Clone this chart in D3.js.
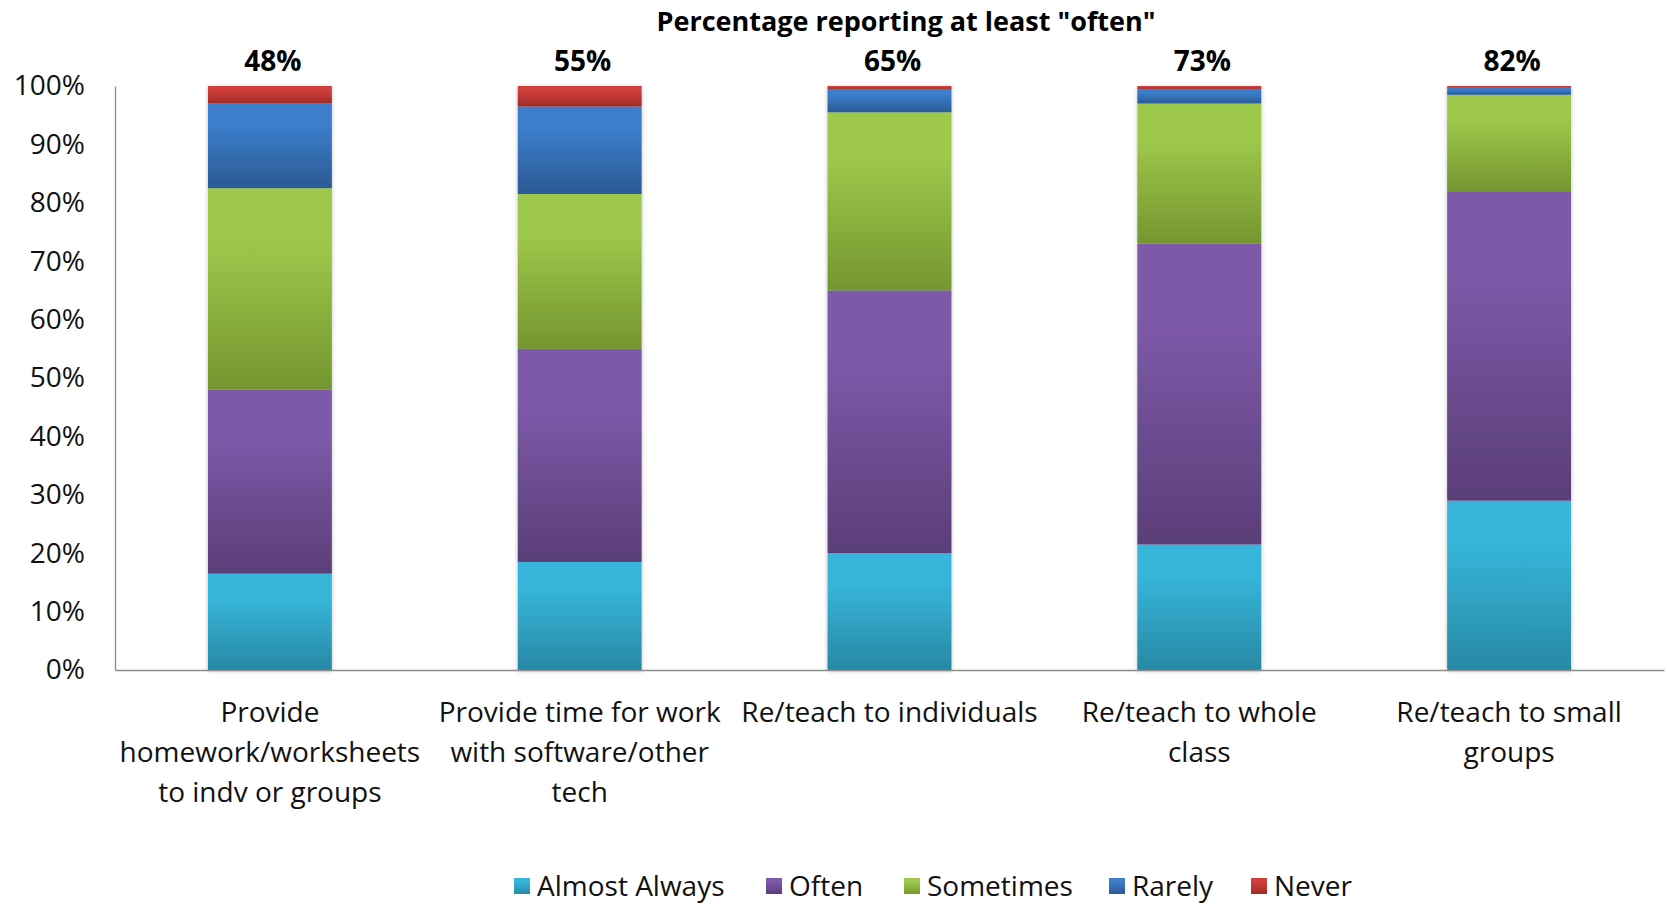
<!DOCTYPE html>
<html>
<head>
<meta charset="utf-8">
<script src="https://cdn.jsdelivr.net/npm/d3@7"></script>
<style>
  html, body { margin: 0; padding: 0; background: #fff; }
  svg { display: block; font-family: "Open Sans", sans-serif; }
</style>
</head>
<body>
<svg id="chart" width="1667" height="907"></svg>
<script>
// Categories (line breaks mark where the axis label wraps)
const categories = [
  "Provide\nhomework/worksheets\nto indv or groups",
  "Provide time for work\nwith software/other\ntech",
  "Re/teach to individuals",
  "Re/teach to whole\nclass",
  "Re/teach to small\ngroups"
];

const seriesNames = ["Almost Always", "Often", "Sometimes", "Rarely", "Never"];

// Percent of respondents per category
const almostAlways = [16.5, 18.5, 20.0, 21.5, 29.0];
const often        = [31.5, 36.5, 45.0, 51.5, 53.0];
const sometimes    = [34.5, 26.5, 30.5, 24.0, 16.5];
const rarely       = [14.5, 15.0,  4.0,  2.5,  1.2];
const never        = [ 3.0,  3.5,  0.5,  0.5,  0.3];

// Share reporting at least "often" (shown above each bar)
const atLeastOften = [48, 55, 65, 73, 82];

const yTicks = [0, 10, 20, 30, 40, 50, 60, 70, 80, 90, 100];

const titleText = 'Percentage reporting at least "often"';

// Gradient colours per series: [top, bottom]
const seriesColors = [
  ["#37b5da", "#2789a4"],
  ["#7d5aa9", "#5a3e78"],
  ["#9ec84a", "#74962f"],
  ["#3c7ecc", "#2b5a94"],
  ["#d03f3b", "#9e2b28"]
];

const seriesValues = [almostAlways, often, sometimes, rarely, never];

const rows = categories.map((c, i) => {
  const r = { category: c };
  seriesNames.forEach((s, k) => { r[s] = seriesValues[k][i]; });
  return r;
});

const svg = d3.select("#chart");
const plot = { left: 115, right: 1664, top: 86, bottom: 670 };

const x = d3.scaleBand()
  .domain(categories)
  .range([plot.left, plot.right])
  .paddingInner(0.6)
  .paddingOuter(0.3);

const y = d3.scaleLinear()
  .domain([0, 100])
  .range([plot.bottom, plot.top]);

// Gradients
const defs = svg.append("defs");
seriesNames.forEach((s, k) => {
  const g = defs.append("linearGradient")
    .attr("id", "grad" + k)
    .attr("x1", 0).attr("y1", 0).attr("x2", 0).attr("y2", 1);
  g.append("stop").attr("offset", "0%").attr("stop-color", seriesColors[k][0]);
  g.append("stop").attr("offset", "25%").attr("stop-color", seriesColors[k][0]);
  g.append("stop").attr("offset", "100%").attr("stop-color", seriesColors[k][1]);
});
const shadow = defs.append("filter").attr("id", "shadow")
  .attr("x", "-10%").attr("y", "-5%").attr("width", "120%").attr("height", "110%");
shadow.append("feDropShadow")
  .attr("dx", 0).attr("dy", 1).attr("stdDeviation", 2)
  .attr("flood-color", "#000").attr("flood-opacity", 0.25);

// Stacked bars
const stack = d3.stack().keys(seriesNames)(rows);

const barsG = svg.append("g");
barsG.selectAll("g.bar")
  .data(categories)
  .join("g")
  .attr("class", "bar")
  .attr("filter", "url(#shadow)")
  .each(function(cat, i) {
    d3.select(this).selectAll("rect")
      .data(stack.map((layer, k) => ({ k, d: layer[i] })))
      .join("rect")
      .attr("x", x(cat))
      .attr("width", x.bandwidth())
      .attr("y", o => y(o.d[1]))
      .attr("height", o => Math.max(0, y(o.d[0]) - y(o.d[1])))
      .attr("fill", o => `url(#grad${o.k})`);
  });

// Axes
const yAxis = d3.axisLeft(y)
  .tickValues(yTicks)
  .tickSize(0)
  .tickPadding(30)
  .tickFormat(d => d + "%");

const yg = svg.append("g")
  .attr("transform", `translate(${plot.left},0)`)
  .call(yAxis);
yg.select(".domain").attr("stroke", "#8c8c8c").attr("stroke-width", 1.3);
yg.selectAll("text")
  .attr("font-size", 28)
  .attr("fill", "#111")
  .attr("font-family", "Open Sans, sans-serif");

const xAxis = d3.axisBottom(x).tickSize(0).tickFormat("");
const xg = svg.append("g")
  .attr("transform", `translate(0,${plot.bottom})`)
  .call(xAxis);
xg.select(".domain").attr("stroke", "#8c8c8c").attr("stroke-width", 1.3);

// Category labels (multi-line)
const catG = svg.append("g");
categories.forEach(cat => {
  const lines = cat.split("\n");
  const t = catG.append("text")
    .attr("x", x(cat) + x.bandwidth() / 2)
    .attr("y", plot.bottom + 52)
    .attr("text-anchor", "middle")
    .attr("font-size", 28)
    .attr("fill", "#111");
  lines.forEach((ln, j) => {
    t.append("tspan")
      .attr("x", x(cat) + x.bandwidth() / 2)
      .attr("dy", j === 0 ? 0 : 40)
      .text(ln);
  });
});

// Value labels above bars
svg.append("g").selectAll("text")
  .data(categories)
  .join("text")
  .attr("x", d => x(d) + x.bandwidth() / 2 + 3)
  .attr("y", y(100) - 15)
  .attr("text-anchor", "middle")
  .attr("font-size", 28)
  .attr("font-weight", "bold")
  .attr("fill", "#000")
  .text((d, i) => atLeastOften[i] + "%");

// Title
svg.append("text")
  .attr("x", 906)
  .attr("y", 31)
  .attr("text-anchor", "middle")
  .attr("font-size", 27)
  .attr("font-weight", "bold")
  .attr("fill", "#000")
  .text(titleText);

// Legend
const legendItemsX = [514, 766, 904, 1109, 1251];
const legend = svg.append("g");
seriesNames.forEach((s, k) => {
  const g = legend.append("g")
    .attr("transform", `translate(${legendItemsX[k]},886)`);
  g.append("rect")
    .attr("x", 0).attr("y", -8)
    .attr("width", 16).attr("height", 16)
    .attr("fill", `url(#grad${k})`);
  g.append("text")
    .attr("x", 23).attr("y", 10)
    .attr("font-size", 28)
    .attr("fill", "#111")
    .text(s);
});
</script>
</body>
</html>
